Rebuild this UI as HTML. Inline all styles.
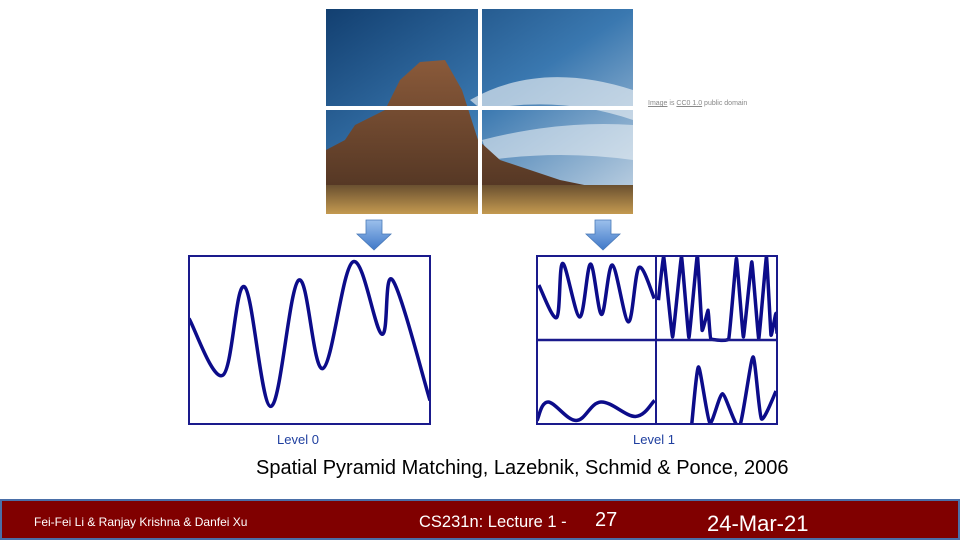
<!DOCTYPE html>
<html><head><meta charset="utf-8"><style>
body{margin:0;width:960px;height:540px;position:relative;background:#fff;overflow:hidden;font-family:"Liberation Sans",sans-serif}
.t{position:absolute;white-space:nowrap}
</style></head><body>
<svg id="s" width="960" height="540" style="position:absolute;left:0;top:0">
<defs>
<linearGradient id="sky" x1="0" y1="0" x2="1" y2="1"><stop offset="0" stop-color="#123f70"/><stop offset="0.5" stop-color="#3a78b0"/><stop offset="1" stop-color="#c9d8e6"/></linearGradient>
<linearGradient id="rock" x1="0" y1="0" x2="0" y2="1"><stop offset="0" stop-color="#8a5a3a"/><stop offset="1" stop-color="#4a3020"/></linearGradient>
<linearGradient id="ground" x1="0" y1="0" x2="0" y2="1"><stop offset="0" stop-color="#6a5030"/><stop offset="1" stop-color="#c49a50"/></linearGradient>
<linearGradient id="arr" x1="0" y1="0" x2="0" y2="1"><stop offset="0" stop-color="#9cc0ec"/><stop offset="1" stop-color="#3f78c8"/></linearGradient>
<clipPath id="c1"><rect x="537" y="256" width="240" height="168"/></clipPath>
<clipPath id="c0"><rect x="189" y="256" width="241" height="168"/></clipPath>
</defs>
<g>
<rect x="326" y="9" width="307" height="205" fill="url(#sky)"/>
<path d="M470,100 Q540,60 633,90 L633,120 Q560,95 482,110Z" fill="#dfe8f0" opacity="0.7"/>
<path d="M482,140 Q560,120 633,125 L633,160 Q560,150 490,160Z" fill="#e8eef4" opacity="0.6"/>
<path d="M326,214 L326,150 L345,140 L355,125 L385,110 L400,80 L420,62 L445,60 L462,90 L478,140 L500,160 L560,180 L633,195 L633,214Z" fill="url(#rock)"/>
<rect x="326" y="185" width="307" height="29" fill="url(#ground)"/>
<rect x="478" y="9" width="4" height="205" fill="#fff"/>
<rect x="326" y="106" width="307" height="4" fill="#fff"/>
</g>
<path d="M366,220 H382 V234 H391 L374,250 L357,234 H366Z" fill="url(#arr)" stroke="#4a7ab8" stroke-width="0.8"/>
<path d="M595,220 H611 V234 H620 L603,250 L586,234 H595Z" fill="url(#arr)" stroke="#4a7ab8" stroke-width="0.8"/>
<g id="curves0" clip-path="url(#c0)"></g>
<g id="curves1" clip-path="url(#c1)"></g>
<rect x="189" y="256" width="241" height="168" fill="none" stroke="#1a1a8c" stroke-width="2"/>
<rect x="537" y="256" width="240" height="168" fill="none" stroke="#1a1a8c" stroke-width="2"/>
<line x1="656" y1="256" x2="656" y2="424" stroke="#1a1a8c" stroke-width="2"/>
<line x1="537" y1="340" x2="777" y2="340" stroke="#1a1a8c" stroke-width="2.5"/>
<rect x="1" y="500" width="958" height="39" fill="#800000" stroke="#4a6fa8" stroke-width="2"/>
</svg>
<div class="t" style="left:648px;top:100px;font-size:7px;color:#888"><u>Image</u> is <u>CC0 1.0</u> public domain</div>
<div class="t" style="left:277px;top:432px;font-size:13px;color:#1f3f9f">Level 0</div>
<div class="t" style="left:633px;top:432px;font-size:13px;color:#1f3f9f">Level 1</div>
<div class="t" style="left:256px;top:457px;font-size:20px;color:#000">Spatial Pyramid Matching, Lazebnik, Schmid &amp; Ponce, 2006</div>
<div class="t" style="left:34px;top:515px;font-size:12px;color:#fff">Fei-Fei Li &amp; Ranjay Krishna &amp; Danfei Xu</div>
<div class="t" style="left:419px;top:513px;font-size:16.5px;color:#fff">CS231n: Lecture 1 -</div>
<div class="t" style="left:595px;top:509px;font-size:20px;color:#fff">27</div>
<div class="t" style="left:707px;top:511px;font-size:22px;color:#fff">24-Mar-21</div>
<script>
const l0X=[0,14,23,34,45.5,55.5,68,80,84.5,100];
const l0Y=[62.8,29,81.7,10.5,85.6,33,96.5,53.5,85.6,14];
const tlX=[0.75,8.2,10.7,17.8,22.3,26.9,31.4,38.1,42.5,48.9];
const tlY=[82.7,63.4,95.6,63.7,95.2,65.2,94.6,60.8,93.2,74.7];
const trX=[50.6,52.8,56.5,60.2,63.3,66.8,68.8,71.3,72.4,79.9,83.1,86,89.5,92.4,95.6,97.5,99.5,100];
const trY=[73.7,99.6,51.8,99.6,51.4,100.5,55.8,67.7,50.8,50.8,98.6,51.8,96.5,50.8,99.6,52.9,65.8,53.8];
const blX=[0,4.6,16.3,26.6,41,49];
const blY=[2.1,13.1,2.1,13.1,4.5,14];
const brX=[64.5,67.3,72,77.3,84.3,90,93.5,99.6];
const brY=[0.2,34,0.6,18,-1.8,39.9,3.1,19.6];
function axis(x0,w,yb,h){return {x:v=>x0+v/100*w,y:v=>yb-v/100*h};}
const ax0=axis(189,241,424,168), ax1=axis(537,240,424,168);
function path(xs,ys,a,t){
  const p=xs.map((v,i)=>[a.x(v),a.y(ys[i])]);
  let d='M'+p[0][0]+','+p[0][1];
  for(let i=0;i<p.length-1;i++){
    const p0=p[Math.max(0,i-1)],p1=p[i],p2=p[i+1],p3=p[Math.min(p.length-1,i+2)];
    const c1=[p1[0]+(p2[0]-p0[0])*t,p1[1]+(p2[1]-p0[1])*t];
    const c2=[p2[0]-(p3[0]-p1[0])*t,p2[1]-(p3[1]-p1[1])*t];
    d+=' C'+c1+' '+c2+' '+p2;
  }
  return d;
}
function draw(gid,xs,ys,a,name,t){
  const g=document.getElementById(gid);
  const el=document.createElementNS('http://www.w3.org/2000/svg','path');
  el.setAttribute('d',path(xs,ys,a,t));
  el.setAttribute('fill','none');
  el.setAttribute('stroke','#0c0c8a');
  el.setAttribute('stroke-width','3.5');
  el.setAttribute('stroke-linejoin','round');
  
  
  g.appendChild(el);
}
draw('curves0',l0X,l0Y,ax0,'level0-curve',0.18);
draw('curves1',tlX,tlY,ax1,'level1-top-left-curve',0.16);
draw('curves1',trX,trY,ax1,'level1-top-right-curve',0.04);
draw('curves1',blX,blY,ax1,'level1-bottom-left-curve',0.18);
draw('curves1',brX,brY,ax1,'level1-bottom-right-curve',0.1);
</script>
</body></html>
